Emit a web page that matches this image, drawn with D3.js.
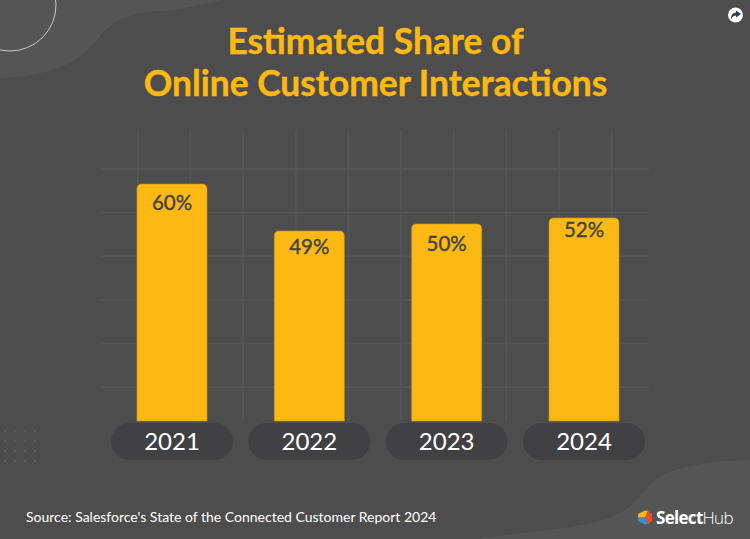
<!DOCTYPE html>
<html>
<head>
<meta charset="utf-8">
<script src="https://cdn.jsdelivr.net/npm/d3@7"></script>
<style>
  html, body { margin: 0; padding: 0; background: #4d4d4d; }
  svg { display: block; font-family: Lato, sans-serif; font-feature-settings: "liga" 1; }
</style>
</head>
<body>
<div id="chart"></div>
<script>
// DATA
const years = ["2021", "2022", "2023", "2024"];
const valueLabels = ["60%", "49%", "50%", "52%"];
// bar lengths as measured in the picture (the drawn bars don't quite follow their labels)
const barValues = [60, 48.1, 49.9, 51.4];
const titleLines = ["Estimated Share of", "Online Customer Interactions"];
const source = "Source: Salesforce's State of the Connected Customer Report 2024";

// LAYOUT
const width = 750, height = 539;
const barWidth = 70, pillWidth = 122, pillHeight = 37;
const labelDy = [26, 23, 27, 19];
const barColor = "#fdb913", blobColor = "#555555";

const svg = d3.select("#chart").append("svg")
  .attr("width", width)
  .attr("height", height);

svg.append("rect").attr("width", width).attr("height", height).attr("fill", "#4d4d4d");

// background shapes
svg.append("path")
  .attr("fill", blobColor)
  .attr("d", "M0,0 L222,0 C190,8 165,11 150,12 C125,14 112,22 100,36 C85,57 60,76 0,78 Z");
svg.append("path")
  .attr("fill", blobColor)
  .attr("d", "M478,539 C530,530 590,530 622,512 C640,500 643,490 655,480 C675,466 710,461 750,460 L750,539 Z");
svg.append("circle")
  .attr("cx", 10).attr("cy", 5).attr("r", 46)
  .attr("fill", "none").attr("stroke", "#c8c8c8").attr("stroke-width", 1);

// dot pattern
svg.append("g").selectAll("circle")
  .data(d3.cross(d3.range(4), d3.range(4)))
  .join("circle")
  .attr("cx", d => 5 + d[0] * 10)
  .attr("cy", d => 431 + d[1] * 10)
  .attr("r", 0.9)
  .attr("fill", "#616161");

// scales
const x = d3.scalePoint().domain(years).range([172, 584]);
const y = d3.scaleLinear().domain([0, 60]).range([421, 184]);

// grid
const grid = svg.append("g").attr("stroke", "#555555").attr("stroke-width", 1.8);
grid.selectAll(".v")
  .data(d3.range(10))
  .join("line")
  .attr("class", "v")
  .attr("x1", d => 137.8 + d * 52.65)
  .attr("x2", d => 137.8 + d * 52.65)
  .attr("y1", 130)
  .attr("y2", d => (d === 9 ? 386 : 421));
grid.selectAll(".h")
  .data(d3.range(6))
  .join("line")
  .attr("class", "h")
  .attr("x1", 101)
  .attr("x2", 649)
  .attr("y1", d => 169 + d * 43.6)
  .attr("y2", d => 169 + d * 43.6);

// bars, rounded on top only
svg.append("g").selectAll("path")
  .data(years)
  .join("path")
  .attr("fill", barColor)
  .attr("stroke", "#c9961a")
  .attr("stroke-width", 0.6)
  .attr("d", (d, i) => {
    const l = x(d) - barWidth / 2, r = x(d) + barWidth / 2, t = y(barValues[i]), b = y(0), rad = 5;
    return `M${l},${b} V${t + rad} Q${l},${t} ${l + rad},${t} H${r - rad} Q${r},${t} ${r},${t + rad} V${b} Z`;
  });

svg.append("g").selectAll("text")
  .data(years)
  .join("text")
  .attr("x", d => x(d))
  .attr("y", (d, i) => y(barValues[i]) + labelDy[i])
  .attr("text-anchor", "middle")
  .attr("font-size", 20.5)
  .attr("fill", "#414143")
  .attr("stroke", "#414143")
  .attr("stroke-width", 0.35)
  .text((d, i) => valueLabels[i]);

// year pills
svg.append("g").selectAll("rect")
  .data(years)
  .join("rect")
  .attr("x", d => x(d) - pillWidth / 2)
  .attr("y", 423)
  .attr("width", pillWidth)
  .attr("height", pillHeight)
  .attr("rx", 18.5)
  .attr("fill", "#414143");

svg.append("g").selectAll("text")
  .data(years)
  .join("text")
  .attr("x", d => x(d))
  .attr("y", 450)
  .attr("text-anchor", "middle")
  .attr("font-size", 24)
  .attr("fill", "#ffffff")
  .text(d => d);

// title
svg.append("g").selectAll("text")
  .data(titleLines)
  .join("text")
  .attr("x", 375.5)
  .attr("y", (d, i) => 53.5 + i * 42)
  .attr("text-anchor", "middle")
  .attr("font-size", 35.4)
  .attr("font-weight", 700)
  .attr("fill", barColor)
  .attr("stroke", barColor)
  .attr("stroke-width", 0.4)
  .text(d => d);

// source
svg.append("text")
  .attr("x", 26)
  .attr("y", 521.5)
  .attr("font-size", 14)
  .attr("fill", "#ffffff")
  .text(source);

// share icon
svg.append("circle").attr("cx", 735.5).attr("cy", 15).attr("r", 7.5).attr("fill", "#ffffff");
svg.append("path")
  .attr("fill", "#2f3d4f")
  .attr("d", "M736,10.5 L741,14 L736,17.5 L736,15.5 C734,15.5 732.5,16.5 731,19 C731,15 733,12.8 736,12.5 Z");

// logo
const logo = svg.append("g").attr("transform", "translate(638,510)");
logo.append("path").attr("fill", "#f9b81c").attr("d", "M0,4 L7,0.5 L10,1 L7,7.5 L0,7.5 Z");
logo.append("path").attr("fill", "#3a8fd0").attr("d", "M0,7.5 L7,7.5 L10,14 L7,14.5 L0,11 Z");
logo.append("path").attr("fill", "#e8502a").attr("d", "M10,1 L14,4 L14,11 L10,14 L7,7.5 Z");

const brand = svg.append("text")
  .attr("x", 656)
  .attr("y", 524)
  .attr("font-family", "'Open Sans', sans-serif")
  .attr("font-size", 17)
  .attr("letter-spacing", -0.7)
  .attr("fill", "#ffffff");
brand.append("tspan").attr("font-weight", 700).text("Select");
brand.append("tspan").attr("font-weight", 300).text("Hub");
</script>
</body>
</html>
